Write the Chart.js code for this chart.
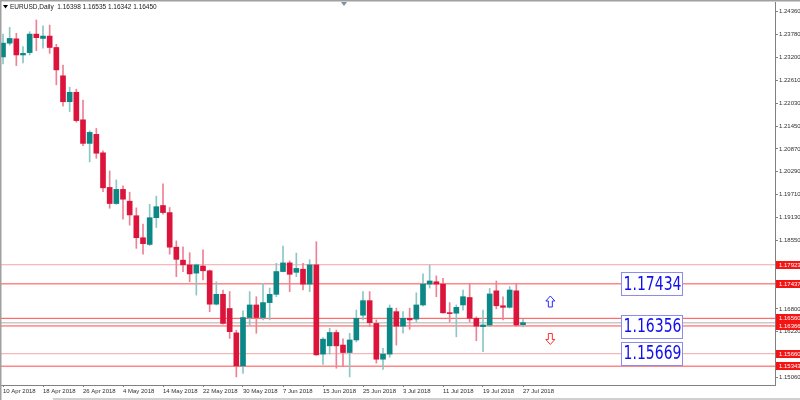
<!DOCTYPE html>
<html>
<head>
<meta charset="utf-8">
<script src="https://cdn.jsdelivr.net/npm/chart.js@4.4.0/dist/chart.umd.min.js"></script>
<style>
  html, body { margin: 0; padding: 0; background: #ffffff; }
  #wrap { width: 800px; height: 400px; }
</style>
</head>
<body>
<div id="wrap"><canvas id="priceChart" width="800" height="400"></canvas></div>
<script>
// EURUSD daily bars, 10 Apr - 27 Jul 2018
const symbolName = 'EURUSD,Daily';
const dates = [
  '10 Apr 2018','11 Apr 2018','12 Apr 2018','13 Apr 2018','16 Apr 2018','17 Apr 2018','18 Apr 2018','19 Apr 2018','20 Apr 2018',
  '23 Apr 2018','24 Apr 2018','25 Apr 2018','26 Apr 2018','27 Apr 2018','30 Apr 2018',
  '1 May 2018','2 May 2018','3 May 2018','4 May 2018','7 May 2018','8 May 2018','9 May 2018','10 May 2018','11 May 2018',
  '14 May 2018','15 May 2018','16 May 2018','17 May 2018','18 May 2018','21 May 2018','22 May 2018','23 May 2018','24 May 2018',
  '25 May 2018','28 May 2018','29 May 2018','30 May 2018','31 May 2018',
  '1 Jun 2018','4 Jun 2018','5 Jun 2018','6 Jun 2018','7 Jun 2018','8 Jun 2018','11 Jun 2018','12 Jun 2018','13 Jun 2018',
  '14 Jun 2018','15 Jun 2018','18 Jun 2018','19 Jun 2018','20 Jun 2018','21 Jun 2018','22 Jun 2018','25 Jun 2018','26 Jun 2018',
  '27 Jun 2018','28 Jun 2018','29 Jun 2018',
  '2 Jul 2018','3 Jul 2018','4 Jul 2018','5 Jul 2018','6 Jul 2018','9 Jul 2018','10 Jul 2018','11 Jul 2018','12 Jul 2018',
  '13 Jul 2018','16 Jul 2018','17 Jul 2018','18 Jul 2018','19 Jul 2018','20 Jul 2018','23 Jul 2018','24 Jul 2018','25 Jul 2018',
  '26 Jul 2018','27 Jul 2018'
];
const openPrices = [
  1.2321, 1.2356, 1.2367, 1.2326, 1.2332, 1.2379, 1.2368, 1.2374, 1.2345,
  1.2273, 1.2207, 1.2231, 1.2161, 1.2101, 1.2124,
  1.2077, 1.1989, 1.1948, 1.1984, 1.1954, 1.1917, 1.1861, 1.1844, 1.1912,
  1.1943, 1.1925, 1.1837, 1.1804, 1.1792, 1.1771, 1.1789, 1.1777, 1.1692,
  1.1717, 1.1681, 1.1619, 1.1535, 1.1658,
  1.1690, 1.1658, 1.1696, 1.1717, 1.1775, 1.1797, 1.1773, 1.1781, 1.1743,
  1.1792, 1.1565, 1.1586, 1.1620, 1.1588, 1.1569, 1.1601, 1.1664, 1.1701,
  1.1643, 1.1552, 1.1565,
  1.1673, 1.1636, 1.1656, 1.1654, 1.1690, 1.1743, 1.1749, 1.1743, 1.1670,
  1.1669, 1.1690, 1.1709, 1.1656, 1.1635, 1.1639, 1.1726, 1.1688, 1.1684,
  1.1726, 1.16398
];
const highPrices = [
  1.2379, 1.2396, 1.2381, 1.2347, 1.2385, 1.2415, 1.2400, 1.2402, 1.2353,
  1.2300, 1.2244, 1.2239, 1.2211, 1.2133, 1.2139,
  1.2082, 1.2031, 1.2008, 1.1993, 1.1977, 1.1937, 1.1896, 1.1946, 1.1967,
  1.1998, 1.1938, 1.1853, 1.1838, 1.1823, 1.1794, 1.1830, 1.1779, 1.1749,
  1.1728, 1.1724, 1.1626, 1.1675, 1.1724,
  1.1711, 1.1745, 1.1733, 1.1796, 1.1840, 1.1802, 1.1822, 1.1796, 1.1805,
  1.1851, 1.1607, 1.1631, 1.1626, 1.1604, 1.1618, 1.1677, 1.1724, 1.1724,
  1.1652, 1.1580, 1.1690,
  1.1682, 1.1673, 1.1682, 1.1721, 1.1769, 1.1792, 1.1764, 1.1758, 1.1696,
  1.1690, 1.1728, 1.1745, 1.1660, 1.1677, 1.1732, 1.1751, 1.1711, 1.1737,
  1.1745, 1.16535
];
const lowPrices = [
  1.2303, 1.2351, 1.2299, 1.2306, 1.2326, 1.2337, 1.2343, 1.2330, 1.2250,
  1.2196, 1.2182, 1.2155, 1.2095, 1.2054, 1.2063,
  1.1978, 1.1936, 1.1946, 1.1908, 1.1893, 1.1834, 1.1819, 1.1841, 1.1887,
  1.1921, 1.1819, 1.1762, 1.1775, 1.1749, 1.1715, 1.1754, 1.1673, 1.1690,
  1.1641, 1.1605, 1.1507, 1.1516, 1.1639,
  1.1618, 1.1652, 1.1652, 1.1711, 1.1774, 1.1724, 1.1762, 1.1728, 1.1724,
  1.1562, 1.1539, 1.1565, 1.1529, 1.1533, 1.1507, 1.1596, 1.1652, 1.1635,
  1.1542, 1.1526, 1.1557,
  1.1588, 1.1618, 1.1628, 1.1647, 1.1687, 1.1733, 1.1711, 1.1669, 1.1647,
  1.1609, 1.1677, 1.1647, 1.1599, 1.1571, 1.1635, 1.1680, 1.1652, 1.1682,
  1.1636, 1.16342
];
const closePrices = [
  1.2356, 1.2368, 1.2326, 1.2330, 1.2379, 1.2370, 1.2374, 1.2345, 1.2288,
  1.2207, 1.2231, 1.2159, 1.2101, 1.2129, 1.2076,
  1.1988, 1.1948, 1.1984, 1.1959, 1.1919, 1.1861, 1.1846, 1.1912, 1.1940,
  1.1925, 1.1837, 1.1806, 1.1792, 1.1769, 1.1792, 1.1777, 1.1692, 1.1717,
  1.1643, 1.1622, 1.1535, 1.1658, 1.1690,
  1.1658, 1.1696, 1.1717, 1.1775, 1.1797, 1.1768, 1.1783, 1.1743, 1.1792,
  1.1563, 1.1603, 1.1620, 1.1586, 1.1569, 1.1601, 1.1656, 1.1701, 1.1645,
  1.1552, 1.1565, 1.1682,
  1.1636, 1.1656, 1.1652, 1.1690, 1.1743, 1.1751, 1.1743, 1.1670, 1.1668,
  1.1684, 1.1711, 1.1656, 1.1636, 1.1639, 1.1718, 1.1688, 1.1684, 1.1728,
  1.1639, 1.16450
];

// horizontal levels and the notes written on them
const levelPrices = [1.17923, 1.17437, 1.16560, 1.16366, 1.15660, 1.15343];
const notePrices = [1.17434, 1.16356, 1.15669];

// tick labels
const yTickValues = [1.24360, 1.23780, 1.23200, 1.22610, 1.22030, 1.21450, 1.20870, 1.20290,
                     1.19710, 1.19130, 1.18550, 1.16800, 1.16220, 1.15060];
const xTickIndexes = [0, 6, 12, 18, 24, 30, 36, 42, 48, 54, 60, 66, 72, 78];

// styles
const BULL = '#0b8785';
const BEAR = '#dc143c';
const BULL_WICK = '#8cc6c5';
const BEAR_WICK = '#ec8294';
const levelColors = ['#f5a5a5', '#ff4a4a', '#ff4a4a', '#ff4a4a', '#f5a5a5', '#ff4a4a'];
const X_MIN = -0.3, X_MAX = 115.8;

const isBull = openPrices.map((o, i) => closePrices[i] >= o);

const bodyData = dates.map((d, i) => ({ x: i, y: [openPrices[i], closePrices[i]] }));
const wickData = dates.map((d, i) => ({ x: i, y: [lowPrices[i], highPrices[i]] }));

const lastIdx = closePrices.length - 1;
const bidPrice = closePrices[lastIdx];

const levelDatasets = levelPrices.map((p, k) => ({
  type: 'line',
  data: [{ x: X_MIN, y: p }, { x: X_MAX, y: p }],
  borderColor: levelColors[k],
  borderWidth: 1,
  pointRadius: 0,
  order: 4
}));

const bidDataset = {
  type: 'line',
  data: [{ x: X_MIN, y: bidPrice }, { x: X_MAX, y: bidPrice }],
  borderColor: '#c8c8c8',
  borderWidth: 1.5,
  pointRadius: 0,
  order: 5
};

const fmt = v => v.toFixed(5);

const decor = {
  id: 'decor',
  afterDatasetsDraw(chart) {
    const { ctx, scales: { x, y } } = chart;
    ctx.save();
    // note boxes
    notePrices.forEach(p => {
      const x0 = Math.round(x.getPixelForValue(92.7));
      const x1 = Math.round(x.getPixelForValue(101.85));
      const yc = y.getPixelForValue(p);
      const top = Math.round(yc - 11.5) + 0.5;
      ctx.fillStyle = '#ffffff';
      ctx.fillRect(x0, top, x1 - x0, 23);
      ctx.strokeStyle = '#8c8cf0';
      ctx.lineWidth = 1;
      ctx.strokeRect(x0 + 0.5, top, x1 - x0, 23);
      ctx.fillStyle = '#1010ee';
      ctx.font = '19px "DejaVu Sans"';
      ctx.textAlign = 'center';
      ctx.textBaseline = 'middle';
      ctx.fillText(fmt(p), (x0 + x1) / 2 + 1, yc + 1, 58);
    });
    // arrows
    const ax = x.getPixelForValue(82.1);
    const drawArrow = (yc, up, color) => {
      const h = 11, w = 9, head = 5, sh = 2;
      const t = yc - h / 2, b = yc + h / 2;
      ctx.beginPath();
      if (up) {
        ctx.moveTo(ax, t);
        ctx.lineTo(ax + w / 2, t + head);
        ctx.lineTo(ax + sh, t + head);
        ctx.lineTo(ax + sh, b);
        ctx.lineTo(ax - sh, b);
        ctx.lineTo(ax - sh, t + head);
        ctx.lineTo(ax - w / 2, t + head);
      } else {
        ctx.moveTo(ax, b);
        ctx.lineTo(ax + w / 2, b - head);
        ctx.lineTo(ax + sh, b - head);
        ctx.lineTo(ax + sh, t);
        ctx.lineTo(ax - sh, t);
        ctx.lineTo(ax - sh, b - head);
        ctx.lineTo(ax - w / 2, b - head);
      }
      ctx.closePath();
      ctx.strokeStyle = color;
      ctx.lineWidth = 1;
      ctx.stroke();
    };
    drawArrow(y.getPixelForValue(1.16988), true, '#2a2aff');
    drawArrow(y.getPixelForValue(1.16034), false, '#ff3030');
    ctx.restore();
  },
  afterDraw(chart) {
    const { ctx, chartArea, scales: { y } } = chart;
    ctx.save();
    // window frame
    ctx.fillStyle = '#a0a0a0';
    ctx.fillRect(0, 0, 800, 1.5);
    ctx.fillRect(0, 0, 1.5, 400);
    ctx.fillStyle = '#d0d0d0';
    ctx.fillRect(53, 398, 747, 2);
    // chart shift marker
    ctx.fillStyle = '#8090a0';
    ctx.beginPath();
    ctx.moveTo(341, 2); ctx.lineTo(347, 2); ctx.lineTo(344, 6); ctx.closePath();
    ctx.fill();
    // title
    ctx.fillStyle = '#000000';
    ctx.beginPath();
    ctx.moveTo(3, 5); ctx.lineTo(8, 5); ctx.lineTo(5.5, 8.5); ctx.closePath();
    ctx.fill();
    ctx.font = '6.5px "Liberation Sans"';
    ctx.textAlign = 'left';
    ctx.textBaseline = 'middle';
    ctx.fillStyle = '#202020';
    const i = lastIdx;
    ctx.fillText(symbolName + '  ' + [openPrices[i], highPrices[i], lowPrices[i], closePrices[i]].map(fmt).join(' '), 10, 7);
    // price labels on the axis
    const tag = (p, bg) => {
      const yc = y.getPixelForValue(p);
      ctx.fillStyle = bg;
      ctx.fillRect(chartArea.right + 1, Math.round(yc) - 4, 25, 8);
      ctx.fillStyle = '#ffffff';
      ctx.font = '6px "Liberation Sans"';
      ctx.fillText(fmt(p), chartArea.right + 4, Math.round(yc));
    };
    tag(bidPrice, '#000000');
    levelPrices.forEach(p => tag(p, '#f51414'));
    ctx.restore();
  }
};

new Chart(document.getElementById('priceChart'), {
  type: 'bar',
  data: {
    datasets: [
      {
        data: bodyData,
        backgroundColor: isBull.map(b => b ? BULL : BEAR),
        borderWidth: 0,
        barThickness: 5,
        minBarLength: 1,
        grouped: false,
        order: 1
      },
      {
        data: wickData,
        backgroundColor: isBull.map(b => b ? BULL_WICK : BEAR_WICK),
        borderWidth: 0,
        barThickness: 1,
        grouped: false,
        order: 2
      },
      ...levelDatasets,
      bidDataset
    ]
  },
  options: {
    responsive: false,
    animation: false,
    events: [],
    layout: { padding: { top: 2, left: 1, right: 0, bottom: 0 } },
    plugins: { legend: { display: false }, tooltip: { enabled: false } },
    font: { family: '"Liberation Sans"' },
    scales: {
      x: {
        type: 'linear',
        position: 'bottom',
        offset: false,
        min: X_MIN,
        max: X_MAX,
        afterBuildTicks: s => { s.ticks = xTickIndexes.map(v => ({ value: v })); },
        afterFit: s => { s.height = 15; s.paddingLeft = 0; s.paddingRight = 0; },
        grid: { offset: false, drawOnChartArea: false, drawTicks: true, tickLength: 2, color: '#808080' },
        border: { display: true, color: '#808080' },
        ticks: {
          autoSkip: false,
          maxRotation: 0,
          align: 'start',
          padding: 1,
          color: '#303030',
          font: { family: '"Liberation Sans"', size: 6 },
          callback: v => dates[v]
        }
      },
      y: {
        type: 'linear',
        position: 'right',
        min: 1.14864,
        max: 1.24607,
        afterBuildTicks: s => { s.ticks = yTickValues.map(v => ({ value: v })); },
        afterFit: s => { s.width = 25; s.paddingTop = 0; s.paddingBottom = 0; },
        grid: { drawOnChartArea: false, drawTicks: true, tickLength: 3, color: '#808080' },
        border: { display: true, color: '#808080' },
        ticks: {
          autoSkip: false,
          padding: 1,
          color: '#303030',
          font: { family: '"Liberation Sans"', size: 6 },
          callback: v => fmt(v)
        }
      }
    }
  },
  plugins: [decor]
});
</script>
</body>
</html>
